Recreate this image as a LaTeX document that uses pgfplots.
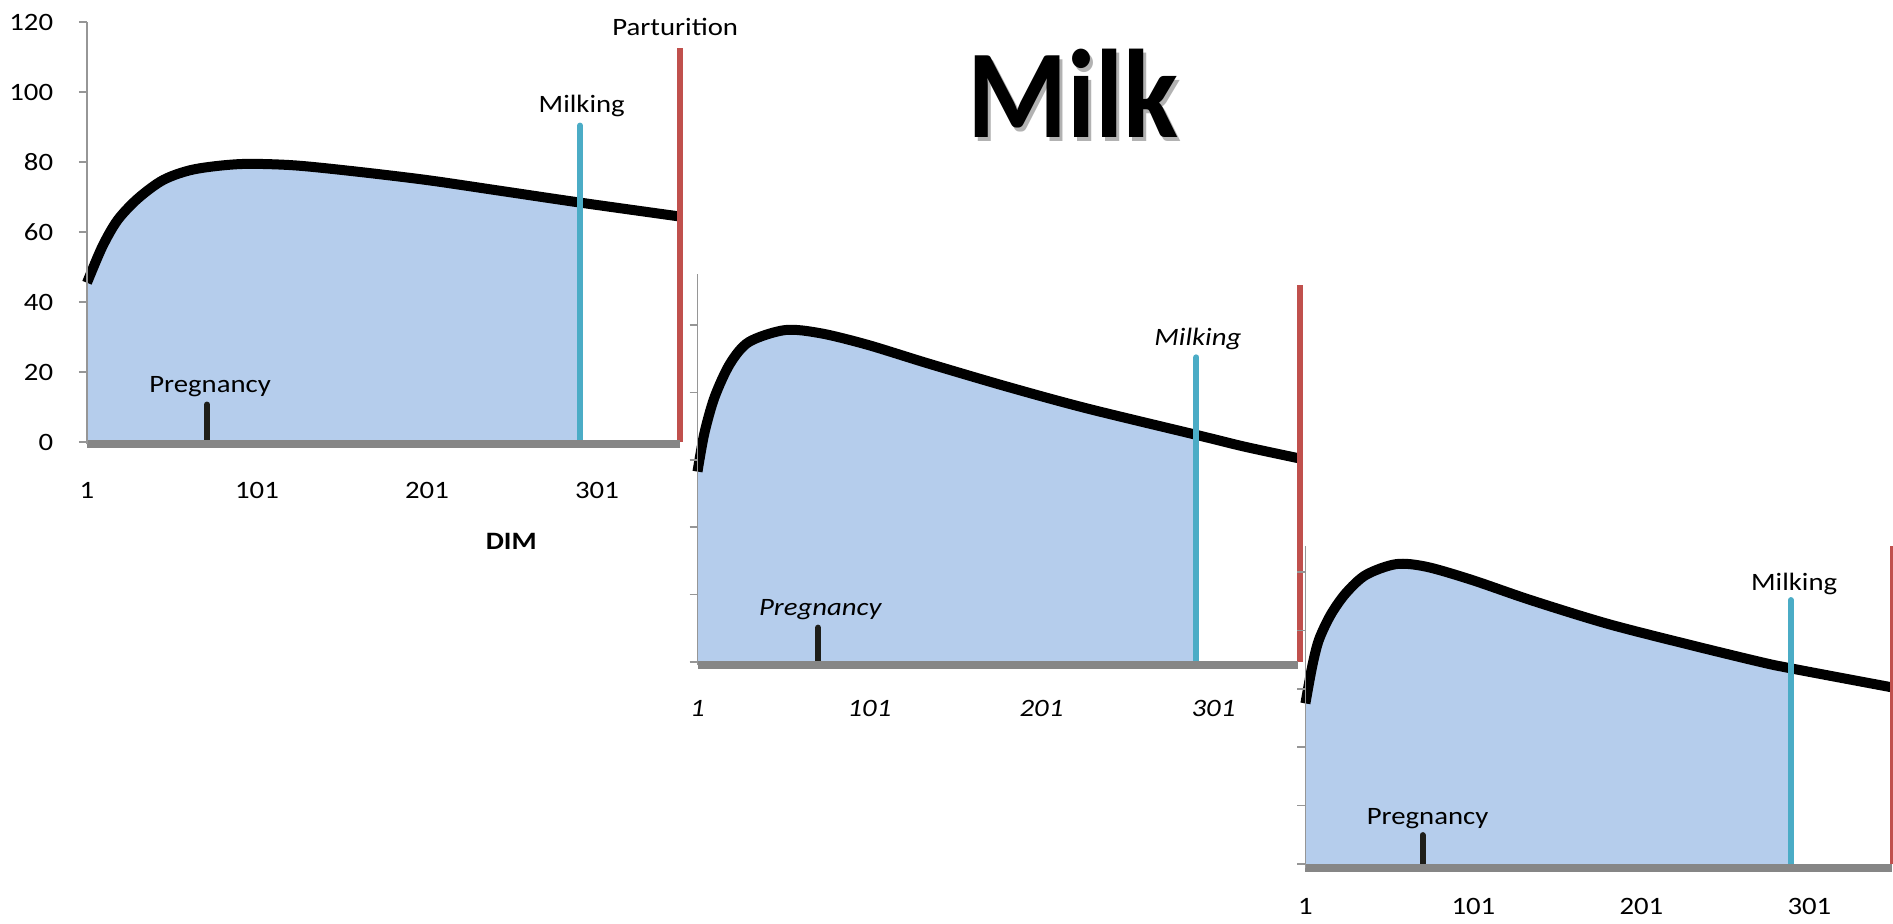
\documentclass[border=0pt]{standalone}
\usepackage{pgfplots}
\pgfplotsset{compat=1.18}
\usepackage{pgfplotstable}
\usepackage{fontspec}
\setmainfont{Carlito}[FakeStretch=1.15]
\newfontfamily\titlefont{Carlito}[FakeStretch=0.91]
\newcommand\lbl{\fontsize{12.5pt}{15pt}\selectfont}

\definecolor{fillblue}{RGB}{181,205,236}
\definecolor{milkblue}{RGB}{75,172,198}
\definecolor{partred}{RGB}{192,80,77}
\definecolor{axisgray}{RGB}{134,134,134}
\definecolor{tickgray}{RGB}{150,150,150}
\definecolor{pregblack}{RGB}{30,30,25}

% lactation curves (day in milk, milk)
\pgfplotstableread{
day milk
1   45.5
10  55.8
19  63.4
31  69.6
46  74.9
64  77.9
91  79.4
121 79.1
155 77.5
200 74.9
245 71.7
291 68.4
350 64.4
}\lactA

\pgfplotstableread{
day milk
1   56.5
5   67.9
11  78.7
20  88.6
31  95
52  98.5
73  97.5
100 94.1
135 88.6
181 81.7
227 75.3
291 67.4
319 63.9
351 60.4
}\lactB

\pgfplotstableread{
day milk
1   55
5   67.6
9   76.7
16  85.3
25  92.7
37  99
55  102.7
73  101.8
100 97.3
135 90.4
180 82.4
226 75.6
271 69.3
290 67
351 60.4
}\lactC

\pgfplotsset{
  lact/.style={
    scale only axis, clip=false, axis on top,
    anchor=south west,
    xmin=1, xmax=350,
    axis x line*=bottom, axis y line*=left,
    x axis line style={-, draw=axisgray, line width=4pt},
    y axis line style={-, draw=tickgray, line width=0.75pt},
    xtick={1,101,201,301}, xticklabels={1,101,201,301},
    xtick style={draw=none},
    ytick={0,20,40,60,80,100,120},
    ytick style={draw=tickgray, line width=0.75pt},
    tick align=outside, major tick length=4pt,
    tick label style={font=\lbl},
    yticklabel style={anchor=east, inner sep=0pt, xshift=-12.75pt},
    /pgf/number format/assume math mode=true,
  },
  curve/.style={draw=black, line width=5pt, smooth},
  area/.style={fill=fillblue, draw=none, smooth},
  milking/.style={draw=milkblue, line width=3pt, line cap=round},
  partus/.style={draw=partred, line width=3pt},
  preg/.style={draw=pregblack, line width=3pt, line cap=round},
}
\tikzset{note/.style={anchor=base, inner sep=0pt, font=\lbl}}

\begin{document}
\begin{tikzpicture}
\useasboundingbox (0,0) rectangle (946.5pt,461.5pt);

% first lactation
\begin{axis}[lact,
  at={(43.5pt,239.28pt)}, width=296.65pt, height=211.23pt,
  ymin=-0.7, ymax=120,
  yticklabels={0,20,40,60,80,100,120},
  xticklabel style={anchor=base, yshift=-23.1pt},
]
\addplot[area] table[x=day, y=milk, restrict x to domain=1:291] {\lactA} \closedcycle;
\addplot[curve] table[x=day, y=milk] {\lactA};
\addplot[preg] coordinates {(71.6,0) (71.6,10.7)};
\addplot[milking] coordinates {(291,0) (291,90.4)};
\addplot[partus] coordinates {(350,0) (350,112.5)};
\node[note] at (axis cs:73.4,14) {Pregnancy};
\node[note] at (axis cs:292,94.1) {Milking};
\node[note] at (axis cs:347,116) {Parturition};
\node[note, font=\lbl\bfseries] at (axis cs:250.6,-30.6) {DIM};
\end{axis}

% second lactation
\begin{axis}[lact,
  at={(348.75pt,128.82pt)}, width=300.14pt, height=195.46pt,
  ymin=-1, ymax=115,
  yticklabels={},
  xticklabel style={anchor=base, yshift=-21.7pt, font=\lbl\itshape},
]
\addplot[area] table[x=day, y=milk, restrict x to domain=1:291] {\lactB} \closedcycle;
\addplot[curve] table[x=day, y=milk] {\lactB};
\addplot[preg] coordinates {(71.1,0) (71.1,10.2)};
\addplot[milking] coordinates {(291,0) (291,90.4)};
\addplot[partus] coordinates {(351,0) (351,111.9)};
\node[note, font=\lbl\itshape] at (axis cs:72.4,13.9) {Pregnancy};
\node[note, font=\lbl\itshape] at (axis cs:291.9,93.8) {Milking};
\end{axis}

% third lactation
\begin{axis}[lact,
  at={(652.7pt,27.6pt)}, width=293.16pt, height=161.04pt,
  ymin=-1.3, ymax=109,
  yticklabels={},
  xticklabel style={anchor=base, yshift=-19.3pt},
]
\addplot[area] table[x=day, y=milk, restrict x to domain=1:290] {\lactC} \closedcycle;
\addplot[curve] table[x=day, y=milk] {\lactC};
\addplot[preg] coordinates {(70.8,0) (70.8,9.9)};
\addplot[milking] coordinates {(290,0) (290,90.4)};
\addplot[partus] coordinates {(350.5,0) (350.5,109)};
\node[note] at (axis cs:73.7,13.6) {Pregnancy};
\node[note] at (axis cs:291.9,93.8) {Milking};
\end{axis}

% title with its drop shadow
\node[anchor=base, inner sep=0pt, text=black!30,
  font=\titlefont\bfseries\fontsize{63pt}{70pt}\selectfont] at (538pt,390.85pt) {Milk};
\node[anchor=base, inner sep=0pt, text=black,
  font=\titlefont\bfseries\fontsize{63pt}{70pt}\selectfont] at (536.5pt,392.85pt) {Milk};
\end{tikzpicture}
\end{document}
